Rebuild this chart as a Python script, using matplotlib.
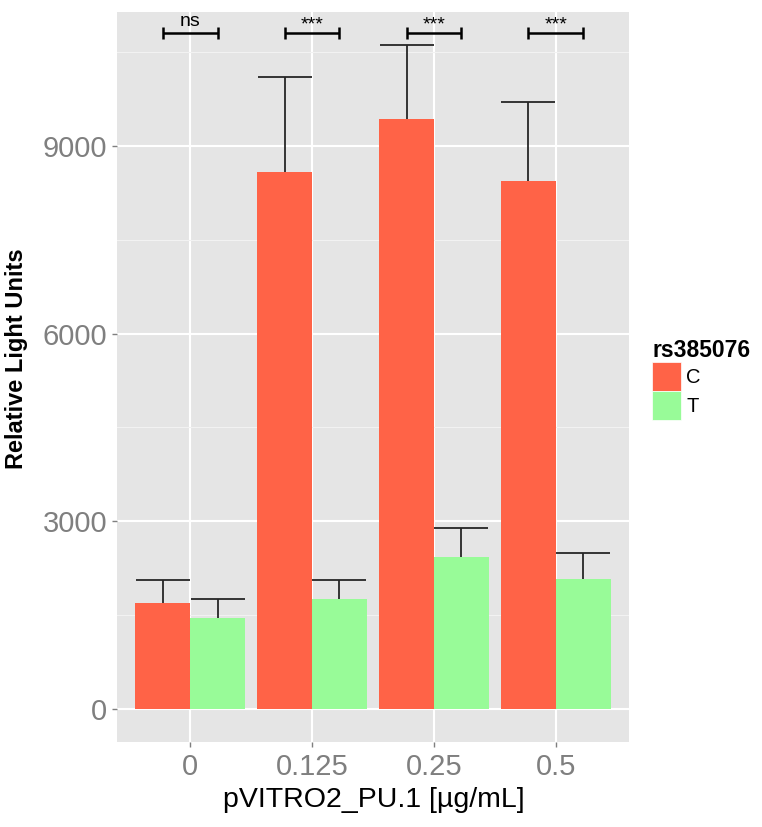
import matplotlib
matplotlib.use("Agg")
import matplotlib.pyplot as plt
from matplotlib.patches import Patch
import numpy as np

plt.rcParams['font.family'] = ['Liberation Sans', 'DejaVu Sans']

# data
doses = ['0', '0.125', '0.25', '0.5']
alleles = ['C', 'T']
mean_c = [1700, 8590, 9430, 8440]
mean_t = [1450, 1760, 2430, 2070]
se_c = [355, 1510, 1180, 1260]
se_t = [305, 300, 460, 420]
signif = ['ns', '***', '***', '***']
bracket_y = 10810

colors = {'C': '#FF6347', 'T': '#98FB98'}
tick_grey = '#7f7f7f'

fig = plt.figure(figsize=(7.62, 8.27), dpi=100)
ax = fig.add_axes([117 / 762, 85 / 827, 512 / 762, 730 / 827])
ax.set_facecolor('#E5E5E5')

x = np.arange(len(doses))
w = 0.45

# error bars sit under the bars, so only the upper whisker shows
ax.errorbar(x - w / 2, mean_c, yerr=se_c, fmt='none', ecolor='#262626',
            elinewidth=1.3, capsize=19.5, capthick=1.3, zorder=2)
ax.errorbar(x + w / 2, mean_t, yerr=se_t, fmt='none', ecolor='#262626',
            elinewidth=1.3, capsize=19.5, capthick=1.3, zorder=2)

ax.bar(x - w / 2, mean_c, width=w, color=colors['C'], zorder=3)
ax.bar(x + w / 2, mean_t, width=w, color=colors['T'], zorder=3)

# significance brackets
ax.errorbar(x, [bracket_y] * len(x), xerr=w / 2, fmt='none', ecolor='black',
            elinewidth=1.8, capsize=4.3, capthick=1.8, zorder=4)
for xi, s in zip(x, signif):
    yy = 10990 if s == 'ns' else 10930
    ax.text(xi, yy, s, ha='center', va='center', fontsize=14, zorder=5)

ax.set_xlim(-0.6, 3.6)
ax.set_ylim(-530, 11140)
ax.set_xticks(x)
ax.set_xticklabels(doses)
ax.set_yticks([0, 3000, 6000, 9000])
ax.set_yticks([1500, 4500, 7500, 10500], minor=True)

ax.set_axisbelow(True)
ax.grid(which='major', color='white', linewidth=1.5)
ax.grid(which='minor', axis='y', color='#F2F2F2', linewidth=0.8)
for sp in ax.spines.values():
    sp.set_visible(False)

ax.tick_params(which='major', length=3.6, width=1, color=tick_grey,
               labelcolor=tick_grey, labelsize=21)
ax.tick_params(axis='x', pad=4)
ax.tick_params(axis='y', pad=3.5)
ax.tick_params(which='minor', length=0)

fig.text(17 / 762, 1 - 359 / 827, 'Relative Light Units', rotation=90,
         ha='center', va='center', fontsize=17, fontweight='bold')
fig.text(374 / 762, 1 - 800 / 827, 'pVITRO2_PU.1 [µg/mL]',
         ha='center', va='center', fontsize=20.5)

handles = [Patch(facecolor=colors[a], edgecolor='white', linewidth=0.5) for a in alleles]
leg = fig.legend(handles, alleles, title='rs385076', loc='upper left',
                 bbox_to_anchor=(652 / 762, 1 - 339 / 827), frameon=False,
                 fontsize=14.5, handlelength=1.45, handleheight=1.85,
                 handletextpad=0.25, labelspacing=0, borderpad=0,
                 borderaxespad=0, alignment='left',
                 title_fontproperties={'weight': 'bold', 'size': 16.5})

fig.savefig('out.png', dpi=100)
